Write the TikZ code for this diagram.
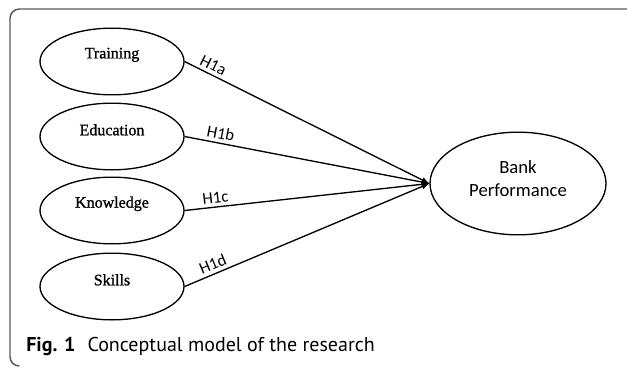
\documentclass[tikz,border=0pt]{standalone}
\usepackage{fontspec}
\setmainfont{Liberation Serif}[BoldFont=Liberation Serif, BoldFeatures={FakeBold=1.2}]
\newfontfamily\lblfont{Carlito}
\newfontfamily\capfont{PT Sans}
\usetikzlibrary{shapes.geometric,arrows}

\begin{document}
\begin{tikzpicture}[x=0.75pt,y=0.75pt]
\tikzstyle{every node}+=[inner sep=0pt]
\tikzstyle{factor}=[draw=black, ellipse, line width=1pt, minimum width=108pt, minimum height=50pt]
\tikzstyle{factortxt}=[font=\bfseries\fontsize{12}{14}\selectfont]
\tikzstyle{hyp}=[font=\lblfont\fontsize{12.5}{14}\selectfont, sloped, above=2.5pt]
\tikzstyle{link}=[black, line width=1pt, -latex]
\useasboundingbox (0,0) rectangle (627,-367);
% frame
\draw [black!65, line width=1.1pt, rounded corners=7pt] (627,-9) -- (10,-9) -- (10,-366) -- (18,-366);
% independent variables
\node [factor] (train) at (112,-61.5) {};
\node [factortxt] (trainlbl) at ([yshift=5pt]train.center) {Training};
\node [factor] (edu) at (112,-136.5) {};
\node [factortxt] (edulbl) at ([yshift=5pt]edu.center) {Education};
\node [factor] (know) at (112,-210.5) {};
\node [factortxt] (knowlbl) at ([yshift=5pt]know.center) {Knowledge};
\node [factor] (skill) at (112,-286.5) {};
\node [factortxt] (skilllbl) at ([yshift=5pt]skill.center) {Skills};
% dependent variable
\node [factor, minimum width=132pt, minimum height=77pt] (bank) at (518,-183.5) {};
\node [align=center, font=\lblfont\fontsize{14}{17}\selectfont] (banklbl)
  at ([yshift=3.5pt]bank.center) {Bank\\Performance};
% hypotheses
\draw [link] (train.east) -- node [hyp, pos=0.1] {H1a} (bank.west);
\draw [link] (edu.east) -- node [hyp, pos=0.14] {H1b} (bank.west);
\draw [link] (know.east) -- node [hyp, pos=0.13] {H1c} (bank.west);
\draw [link] (skill.east) -- node [hyp, pos=0.13] {H1d} (bank.west);
% caption
\node [anchor=base west, font=\capfont\fontsize{15}{18}\selectfont] (caption) at (26,-351)
  {\textbf{Fig. 1}\hspace{0.6em}Conceptual model of the research};
\end{tikzpicture}
\end{document}
